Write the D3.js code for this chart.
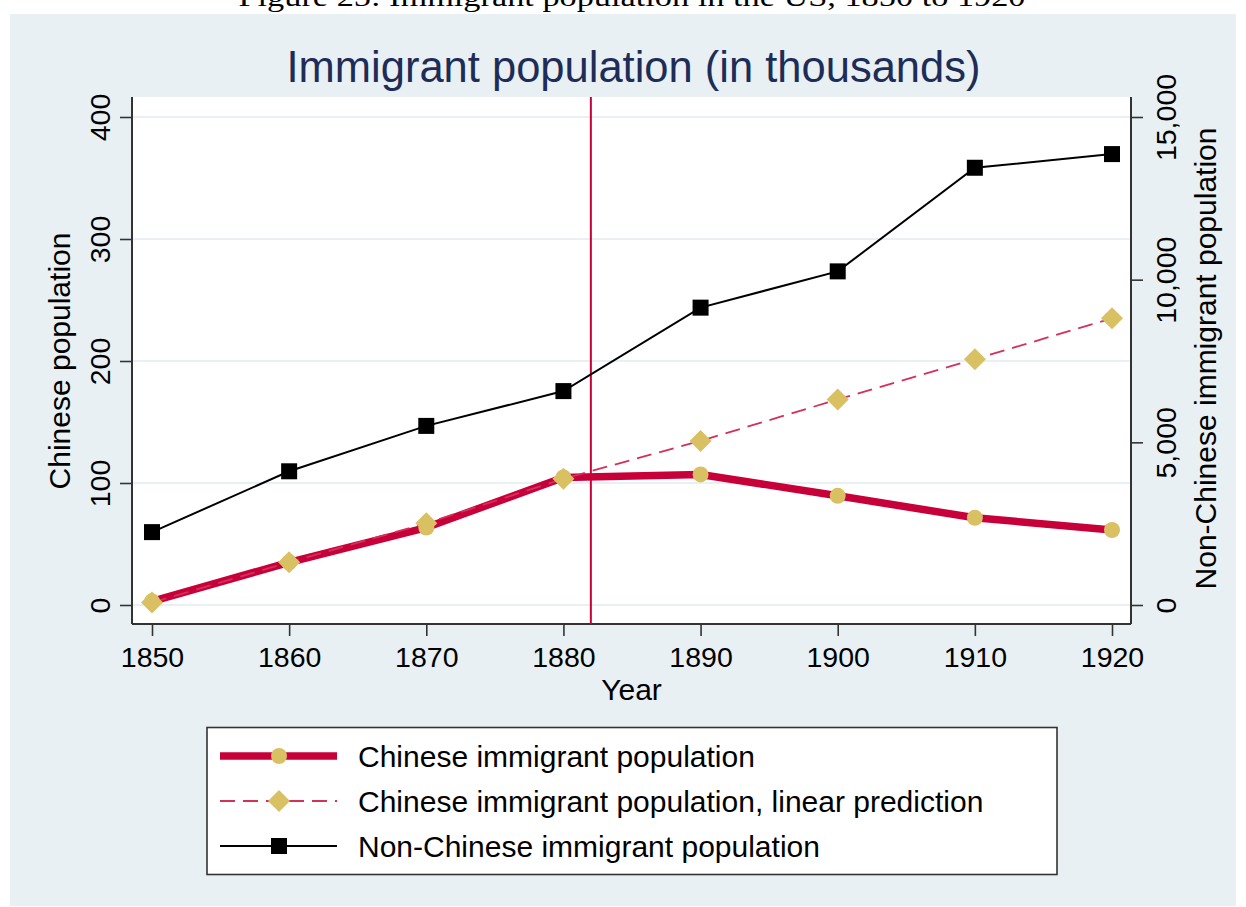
<!DOCTYPE html>
<html>
<head>
<meta charset="utf-8">
<script src="https://cdn.jsdelivr.net/npm/d3@7"></script>
<style>
  html, body { margin: 0; padding: 0; background: #ffffff; }
  svg { display: block; }
  text { font-family: "Liberation Sans", Arial, Helvetica, sans-serif; }
</style>
</head>
<body>
<svg id="chart" width="1246" height="907"></svg>
<script>
// Census years
const years = [1850, 1860, 1870, 1880, 1890, 1900, 1910, 1920];
// Chinese immigrant population (thousands)
const chinese = [3, 35, 63.5, 104.5, 107, 89.5, 71.5, 61.5];
// Linear prediction of Chinese immigrant population (thousands)
const chinesePred = [2, 35, 67, 103.5, 134.5, 168.5, 201.5, 235];
// Non-Chinese immigrant population (thousands)
const nonChinese = [2240, 4110, 5505, 6575, 9140, 10255, 13440, 13860];

const leftTicks = [0, 100, 200, 300, 400];
const rightTicks = [0, 5000, 10000, 15000];
const xTicks = [1850, 1860, 1870, 1880, 1890, 1900, 1910, 1920];
const exclusionYear = 1882;

const caption = "Figure 25: Immigrant population in the US, 1850 to 1920";
const title = "Immigrant population (in thousands)";
const xTitle = "Year";
const yLeftTitle = "Chinese population";
const yRightTitle = "Non-Chinese immigrant population";
const legendLabels = [
  "Chinese immigrant population",
  "Chinese immigrant population, linear prediction",
  "Non-Chinese immigrant population"
];

const colors = {
  bg: "#e8f0f3",
  grid: "#e8f0f3",
  title: "#1e2c58",
  red: "#c8003a",
  dash: "#d3305a",
  sand: "#d8c063",
  axis: "#333333"
};

const svg = d3.select("#chart");

// plot region
const plot = { left: 132, right: 1131, top: 97, bottom: 624 };

const x = d3.scaleLinear().domain([1850, 1920]).range([152, 1112]);
const yL = d3.scaleLinear().domain([0, 400]).range([605, 117]);
const yR = d3.scaleLinear().domain([0, 15000]).range([605, 117]);

// outer graph region
svg.append("rect").attr("x", 10).attr("y", 14).attr("width", 1226).attr("height", 892)
  .attr("fill", colors.bg);

// caption above the graph (page top clips its upper half)
svg.append("text").attr("x", 632).attr("y", 6)
  .attr("text-anchor", "middle")
  .style("font-family", "'Liberation Serif', 'DejaVu Serif', serif")
  .style("font-size", "28px")
  .attr("textLength", 787).attr("lengthAdjust", "spacingAndGlyphs")
  .attr("fill", "#000")
  .text(caption);

// plot region background
svg.append("rect").attr("x", plot.left).attr("y", plot.top)
  .attr("width", plot.right - plot.left).attr("height", plot.bottom - plot.top)
  .attr("fill", "#ffffff");

// horizontal grid lines
svg.append("g").selectAll("line").data(leftTicks).join("line")
  .attr("x1", plot.left).attr("x2", plot.right)
  .attr("y1", d => yL(d)).attr("y2", d => yL(d))
  .attr("stroke", colors.grid).attr("stroke-width", 2);

// title
svg.append("text").attr("x", 633.5).attr("y", 81.5)
  .attr("text-anchor", "middle").attr("fill", colors.title)
  .style("font-size", "43.5px").text(title);

// left axis
const leftAxis = svg.append("g").attr("transform", `translate(${plot.left},0)`)
  .call(d3.axisLeft(yL).tickValues(leftTicks).tickSize(12).tickSizeOuter(0).tickFormat(d3.format("d")));
leftAxis.select(".domain").attr("d", `M0,${plot.top}V${plot.bottom}`);
// right axis
const rightAxis = svg.append("g").attr("transform", `translate(${plot.right},0)`)
  .call(d3.axisRight(yR).tickValues(rightTicks).tickSize(12).tickSizeOuter(0).tickFormat(d3.format(",")));
rightAxis.select(".domain").attr("d", `M0,${plot.top}V${plot.bottom}`);
// bottom axis
const bottomAxis = svg.append("g").attr("transform", `translate(0,${plot.bottom})`)
  .call(d3.axisBottom(x).tickValues(xTicks).tickSize(12).tickSizeOuter(0).tickFormat(d3.format("d")));
bottomAxis.select(".domain").attr("d", `M${plot.left},0H${plot.right}`);

[leftAxis, rightAxis, bottomAxis].forEach(g => {
  g.selectAll(".domain").attr("stroke", colors.axis).attr("stroke-width", 2);
  g.selectAll(".tick line").attr("stroke", colors.axis).attr("stroke-width", 1.6);
  g.selectAll(".tick text").attr("fill", "#000").style("font-size", "28.5px")
    .style("font-family", "'Liberation Sans', Arial, sans-serif");
});
// vertical tick labels on the y axes
leftAxis.selectAll(".tick text")
  .attr("x", null).attr("dy", null).attr("text-anchor", "middle")
  .attr("transform", "translate(-22,0) rotate(-90)")
  .attr("y", 0);
rightAxis.selectAll(".tick text")
  .attr("x", null).attr("dy", null).attr("text-anchor", "middle")
  .attr("transform", "translate(45,0) rotate(-90)")
  .attr("y", 0);
bottomAxis.selectAll(".tick text").attr("dy", null).attr("y", 42.5);

// axis titles
svg.append("text").attr("x", 631.5).attr("y", 700).attr("text-anchor", "middle")
  .style("font-size", "30px").attr("fill", "#000").text(xTitle);
svg.append("text").attr("transform", "translate(70,361) rotate(-90)")
  .attr("text-anchor", "middle").style("font-size", "30px").attr("fill", "#000").text(yLeftTitle);
svg.append("text").attr("transform", "translate(1216,358.5) rotate(-90)")
  .attr("text-anchor", "middle").style("font-size", "30px").attr("fill", "#000").text(yRightTitle);

// 1882 reference line
svg.append("line").attr("x1", x(exclusionYear)).attr("x2", x(exclusionYear))
  .attr("y1", plot.top).attr("y2", plot.bottom)
  .attr("stroke", colors.red).attr("stroke-width", 2);

const lineL = (vals) => d3.line().x((d, i) => x(years[i])).y(d => yL(d))(vals);
const lineR = (vals) => d3.line().x((d, i) => x(years[i])).y(d => yR(d))(vals);
const diamond = (r) => `M0,${-r}L${r},0L0,${r}L${-r},0Z`;

// Chinese immigrant population
svg.append("path").attr("d", lineL(chinese)).attr("fill", "none")
  .attr("stroke", colors.red).attr("stroke-width", 7.5).attr("stroke-linejoin", "round");
svg.append("g").selectAll("circle").data(chinese).join("circle")
  .attr("cx", (d, i) => x(years[i])).attr("cy", d => yL(d)).attr("r", 8)
  .attr("fill", colors.sand);

// linear prediction
svg.append("path").attr("d", lineL(chinesePred)).attr("fill", "none")
  .attr("stroke", colors.dash).attr("stroke-width", 1.8).attr("stroke-dasharray", "15,8");
svg.append("g").selectAll("path").data(chinesePred).join("path")
  .attr("transform", (d, i) => `translate(${x(years[i])},${yL(d)})`)
  .attr("d", diamond(11)).attr("fill", colors.sand);

// Non-Chinese immigrant population
svg.append("path").attr("d", lineR(nonChinese)).attr("fill", "none")
  .attr("stroke", "#000").attr("stroke-width", 2);
svg.append("g").selectAll("rect").data(nonChinese).join("rect")
  .attr("x", (d, i) => x(years[i]) - 8).attr("y", d => yR(d) - 8)
  .attr("width", 16).attr("height", 16).attr("fill", "#000");

// legend
const legend = svg.append("g");
legend.append("rect").attr("x", 207).attr("y", 727.5).attr("width", 850).attr("height", 147)
  .attr("fill", "#fff").attr("stroke", colors.axis).attr("stroke-width", 1.6);
const rowY = [756, 801, 846];
const lx1 = 220, lx2 = 337, lxm = 279;
// row 1
legend.append("line").attr("x1", lx1).attr("x2", lx2).attr("y1", rowY[0]).attr("y2", rowY[0])
  .attr("stroke", colors.red).attr("stroke-width", 7.5);
legend.append("circle").attr("cx", lxm).attr("cy", rowY[0]).attr("r", 8).attr("fill", colors.sand);
// row 2
legend.append("line").attr("x1", lx1).attr("x2", lx2).attr("y1", rowY[1]).attr("y2", rowY[1])
  .attr("stroke", colors.dash).attr("stroke-width", 1.8).attr("stroke-dasharray", "15,8");
legend.append("path").attr("transform", `translate(${lxm},${rowY[1]})`).attr("d", diamond(11))
  .attr("fill", colors.sand);
// row 3
legend.append("line").attr("x1", lx1).attr("x2", lx2).attr("y1", rowY[2]).attr("y2", rowY[2])
  .attr("stroke", "#000").attr("stroke-width", 2);
legend.append("rect").attr("x", lxm - 8).attr("y", rowY[2] - 8).attr("width", 16).attr("height", 16)
  .attr("fill", "#000");
legend.selectAll("text.lab").data(legendLabels).join("text").attr("class", "lab")
  .attr("x", 358).attr("y", (d, i) => rowY[i] + 11)
  .style("font-size", "30px").attr("fill", "#000").text(d => d);
</script>
</body>
</html>
